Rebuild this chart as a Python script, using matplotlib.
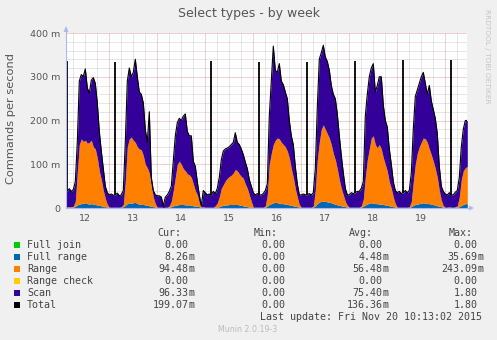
import numpy as np
import matplotlib
matplotlib.use("Agg")
import matplotlib.pyplot as plt
from matplotlib.lines import Line2D
from matplotlib.patches import Polygon, Rectangle

W, H = 497, 340

# ---------------- data (hours since Nov 12 00:00, hourly) ----------------
hours = np.arange(0, 204)

full_range = [
    2, 2, 2, 2, 2, 2, 2, 4, 7, 9, 10, 11, 12, 10, 9, 10, 9, 8, 7, 6, 5, 3, 3, 2,          # 12
    2, 2, 2, 2, 2, 2, 2, 3, 6, 10, 12, 11, 12, 13, 10, 9, 8, 8, 7, 6, 5, 4, 3, 2,         # 13
    2, 2, 2, 1, 2, 2, 2, 3, 5, 6, 7, 8, 8, 8, 7, 7, 7, 6, 5, 4, 4, 3, 1, 2,               # 14
    2, 2, 2, 2, 2, 2, 2, 3, 5, 6, 7, 7, 8, 8, 8, 8, 8, 7, 6, 5, 4, 3, 2, 2,               # 15
    2, 2, 2, 2, 2, 2, 2, 4, 8, 10, 12, 13, 12, 11, 10, 10, 9, 8, 7, 6, 5, 4, 3, 2,        # 16
    2, 2, 2, 2, 2, 2, 2, 5, 10, 14, 15, 16, 15, 14, 13, 12, 10, 9, 7, 6, 5, 4, 3, 2,      # 17
    2, 2, 2, 2, 2, 2, 2, 4, 7, 9, 11, 12, 11, 10, 10, 9, 9, 8, 7, 6, 5, 4, 3, 2,          # 18
    2, 2, 2, 2, 2, 2, 2, 3, 6, 8, 9, 10, 11, 12, 11, 10, 10, 9, 8, 6, 5, 4, 3, 2,         # 19
    2, 2, 2, 2, 2, 2, 2, 3, 6, 8, 10, 10,                                                 # 20
]
range_vals = [
    1, 1, 1, 1, 1, 1, 2, 11, 73, 136, 148, 141, 143, 138, 141, 145, 131, 127, 108, 79, 60, 37, 19, 6,
    0, 0, 0, 0, 0, 0, 1, 5, 54, 130, 146, 151, 143, 137, 130, 126, 125, 112, 93, 86, 75, 46, 22, 8,
    0, 0, 0, 0, 0, 0, 3, 12, 35, 64, 93, 99, 92, 82, 78, 71, 69, 64, 50, 36, 26, 9, 1, 1,
    0, 0, 0, 0, 0, 3, 10, 22, 40, 47, 55, 61, 64, 67, 72, 80, 77, 71, 66, 63, 51, 42, 28, 13,
    0, 0, 0, 0, 0, 0, 3, 26, 92, 115, 133, 142, 148, 147, 140, 135, 131, 122, 108, 84, 65, 41, 22, 6,
    0, 0, 0, 0, 0, 0, 3, 35, 100, 136, 165, 174, 165, 156, 147, 133, 115, 101, 83, 59, 40, 26, 12, 4,
    0, 0, 0, 0, 0, 0, 3, 16, 63, 101, 124, 148, 154, 135, 128, 136, 126, 107, 93, 78, 55, 41, 22, 8,
    0, 0, 0, 0, 0, 0, 1, 12, 54, 92, 116, 130, 139, 148, 147, 140, 125, 113, 99, 84, 65, 36, 15, 3,
    0, 0, 1, 0, 0, 1, 3, 22, 59, 77, 82, 85,
]
total_vals = [
    40, 42, 38, 40, 44, 38, 42, 60, 150, 290, 305, 300, 318, 275, 262, 292, 298, 285, 240, 175, 130, 90, 50, 35,
    30, 32, 29, 30, 34, 28, 30, 40, 150, 290, 320, 300, 310, 340, 300, 265, 260, 240, 180, 150, 220, 70, 40, 30,
    28, 28, 25, 5, 25, 30, 38, 50, 107, 165, 195, 205, 200, 210, 215, 175, 165, 165, 107, 95, 60, 30, 5, 40,
    35, 30, 32, 30, 38, 33, 45, 70, 110, 130, 135, 137, 140, 145, 150, 172, 150, 145, 135, 122, 105, 90, 65, 50,
    35, 30, 33, 30, 30, 33, 40, 55, 210, 290, 370, 315, 310, 330, 290, 282, 265, 250, 200, 165, 145, 95, 55, 30,
    30, 32, 30, 30, 33, 30, 35, 90, 230, 340, 355, 372, 345, 335, 315, 280, 260, 250, 215, 165, 120, 80, 45, 30,
    30, 35, 33, 35, 38, 38, 45, 60, 210, 260, 300, 320, 330, 265, 280, 300, 300, 235, 200, 185, 135, 100, 60, 40,
    35, 38, 33, 35, 40, 35, 40, 80, 180, 255, 270, 285, 300, 310, 285, 260, 280, 245, 225, 205, 170, 95, 50, 38,
    32, 30, 35, 30, 30, 36, 40, 70, 140, 180, 200, 200,
]
# short nightly peaks (hour, value)
spike_hours = [3, 27, 75, 99, 123, 147, 171, 195]
spike_values = [335, 333, 335, 334, 334, 335, 338, 338]

day_labels = ["12", "13", "14", "15", "16", "17", "18", "19"]
day_label_hours = [12, 36, 60, 84, 108, 132, 156, 180]
y_ticks = [0, 100, 200, 300, 400]
y_tick_labels = ["0", "100 m", "200 m", "300 m", "400 m"]

names = ["Full join", "Full range", "Range", "Range check", "Scan", "Total"]
colors = ["#00CC00", "#0066B3", "#FF8000", "#FFCC00", "#330099", "#000000"]
cur = ["0.00", "8.26m", "94.48m", "0.00", "96.33m", "199.07m"]
mins = ["0.00", "0.00", "0.00", "0.00", "0.00", "0.00"]
avgs = ["0.00", "4.48m", "56.48m", "0.00", "75.40m", "136.36m"]
maxs = ["0.00", "35.69m", "243.09m", "0.00", "1.80", "1.80"]

# ---------------- figure ----------------
fig = plt.figure(figsize=(W / 100, H / 100), dpi=100, facecolor="#F0F0F0")

def fx(x):
    return x / W

def fy(y):
    return 1 - y / H

L, R, T, B = 66, 467, 33, 208
ax = fig.add_axes([fx(L), fy(B), (R - L) / W, (B - T) / H])
ax.set_facecolor("white")
ax.set_xlim(2.35, 202.85)
ax.set_ylim(0, 400)
for s in ax.spines.values():
    s.set_visible(False)

# grid
minor_col = "#CFCFCF"
major_col = "#E6A3A3"
dots = (0, (1, 1))
for yv in range(20, 400, 20):
    if yv % 100:
        ax.axhline(yv, color=minor_col, lw=0.72, ls=dots, zorder=0)
for xv in range(6, 203, 6):
    if xv % 24:
        ax.axvline(xv, color=minor_col, lw=0.72, ls=dots, zorder=0)
for yv in (100, 200, 300, 400):
    ax.axhline(yv, color=major_col, lw=0.72, ls=dots, zorder=0.5)
for xv in range(24, 203, 24):
    ax.axvline(xv, color=major_col, lw=0.72, ls=dots, zorder=0.5)

fr = np.array(full_range, float)
rg = np.array(range_vals, float)
total = np.array(total_vals, float)
s1 = fr
s2 = fr + rg          # top of Range; Scan fills up to Total

ax.fill_between(hours, 0, s1, color=colors[1], lw=0, zorder=2)
ax.fill_between(hours, s1, s2, color=colors[2], lw=0, zorder=2)
ax.fill_between(hours, s2, total, color=colors[4], lw=0, zorder=2)
ax.plot(hours, total, color="black", lw=0.8, zorder=3)
base = np.interp(spike_hours, hours, total)
ax.vlines(spike_hours, base, spike_values, color="black", lw=1.3, zorder=3)

# ticks
ax.set_yticks(y_ticks)
ax.set_yticklabels(y_tick_labels)
ax.set_xticks(day_label_hours)
ax.set_xticklabels(day_labels)
ax.tick_params(axis="y", length=0, pad=4.3, labelsize=6.8, labelcolor="#555555")
ax.tick_params(axis="x", length=0, pad=4.5, labelsize=6.8, labelcolor="#555555")

# axis lines with arrows
axis_col = "#AEB8EE"
fig.add_artist(Line2D([fx(L), fx(L)], [fy(B), fy(29)], color=axis_col, lw=0.8))
fig.add_artist(Line2D([fx(L), fx(470)], [fy(B), fy(B)], color=axis_col, lw=0.8))
fig.add_artist(Polygon([(fx(63.5), fy(32)), (fx(68.5), fy(32)), (fx(66), fy(26))],
                       closed=True, color=axis_col, lw=0))
fig.add_artist(Polygon([(fx(469), fy(205.5)), (fx(469), fy(210.5)), (fx(474), fy(208))],
                       closed=True, color=axis_col, lw=0))

# texts
fig.text(fx(248.5), fy(17.3), "Select types - by week", ha="center", va="baseline",
         fontsize=9, color="#555555", family="DejaVu Sans")
fig.text(fx(11), fy(118.5), "Commands per second", ha="center", va="center",
         rotation=90, fontsize=8.2, color="#555555", family="DejaVu Sans")
fig.text(fx(486.5), fy(56), "RRDTOOL / TOBI OETIKER", ha="center", va="center",
         rotation=270, fontsize=5.3, color="#C4C4C4", family="DejaVu Sans")

mono = dict(family="DejaVu Sans Mono", fontsize=7.2, color="#444444", va="baseline")
col_right = [188.5, 285.5, 382.5, 477.5]
head_right = [181, 278, 373, 473]
for hx, lab in zip(head_right, ["Cur:", "Min:", "Avg:", "Max:"]):
    fig.text(fx(hx), fy(235.7), lab, ha="right", **mono)

for i, name in enumerate(names):
    yb = 248.3 + 12 * i
    fig.add_artist(Rectangle((fx(14), fy(yb - 0.5)), 6 / W, 6 / H,
                             color=colors[i], lw=0))
    fig.text(fx(27), fy(yb), name, ha="left", **mono)
    for cx, val in zip(col_right, [cur[i], mins[i], avgs[i], maxs[i]]):
        num = val.rstrip("m")
        fig.text(fx(cx), fy(yb), num, ha="right", **mono)
        if val.endswith("m"):
            fig.text(fx(cx), fy(yb), "m", ha="left", **mono)

fig.text(fx(482.5), fy(320), "Last update: Fri Nov 20 10:13:02 2015", ha="right", **mono)
fig.text(fx(248), fy(332), "Munin 2.0.19-3", ha="center", va="baseline",
         fontsize=5.7, color="#BBBBBB", family="DejaVu Sans")

fig.savefig("out.png", dpi=100, facecolor=fig.get_facecolor())
